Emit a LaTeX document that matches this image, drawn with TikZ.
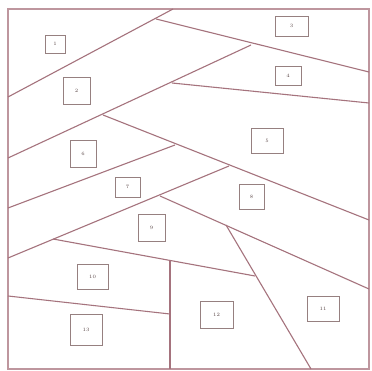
\documentclass[tikz,border=0pt]{standalone}
\begin{document}
\begin{tikzpicture}[x=1pt,y=-1pt,
  seg/.style={draw=lineclr,line width=1.1pt},
  frame/.style={draw=frameclr,line width=1.1pt},
  lbl/.style={draw=boxclr,line width=0.9pt,inner sep=0pt,font=\fontsize{5}{6}\selectfont,text=txtclr},
]
\definecolor{lineclr}{RGB}{165,115,125}
\definecolor{frameclr}{RGB}{190,150,158}
\definecolor{boxclr}{RGB}{150,128,128}
\definecolor{txtclr}{RGB}{90,70,70}
\useasboundingbox (0,0) rectangle (372,371);
\fill[white] (0,0) rectangle (372,371);
% frame
\coordinate (TL) at (8,9);
\coordinate (BR) at (369,369);
\draw[frame] (TL) rectangle (BR);
% line end points
\coordinate (a1) at (8,97);   \coordinate (a2) at (173,9);
\coordinate (b1) at (156,19); \coordinate (b2) at (369,72);
\coordinate (c1) at (8,158);  \coordinate (c2) at (251,45);
\coordinate (d1) at (172,83); \coordinate (d2) at (369,103);
\coordinate (e1) at (103,115);\coordinate (e2) at (369,220);
\coordinate (f1) at (8,208);  \coordinate (f2) at (175,145);
\coordinate (g1) at (8,258);  \coordinate (g2) at (229,166);
\coordinate (h1) at (160,196);\coordinate (h2) at (369,289);
\coordinate (i1) at (226,225);\coordinate (i2) at (311,369);
\coordinate (j1) at (53,239); \coordinate (j2) at (255,276);
\coordinate (k1) at (170,261);\coordinate (k2) at (170,369);
\coordinate (l1) at (8,296);  \coordinate (l2) at (170,314);
\draw[seg] (a1) -- (a2);
\draw[seg] (b1) -- (b2);
\draw[seg] (c1) -- (c2);
\draw[seg] (d1) -- (d2);
\draw[seg] (e1) -- (e2);
\draw[seg] (f1) -- (f2);
\draw[seg] (g1) -- (g2);
\draw[seg] (h1) -- (h2);
\draw[seg] (i1) -- (i2);
\draw[seg] (j1) -- (j2);
\draw[seg] (k1) -- (k2);
\draw[seg] (l1) -- (l2);
% labels
\node[lbl,minimum width=20pt,minimum height=18pt] (n1) at (55,44) {1};
\node[lbl,minimum width=27pt,minimum height=27pt] (n2) at (76.5,90.5) {2};
\node[lbl,minimum width=33pt,minimum height=20pt] (n3) at (291.5,26) {3};
\node[lbl,minimum width=26pt,minimum height=19pt] (n4) at (288,75.5) {4};
\node[lbl,minimum width=32pt,minimum height=25pt] (n5) at (267,140.5) {5};
\node[lbl,minimum width=26pt,minimum height=27pt] (n6) at (83,153.5) {6};
\node[lbl,minimum width=25pt,minimum height=20pt] (n7) at (127.5,187) {7};
\node[lbl,minimum width=25pt,minimum height=25pt] (n8) at (251.5,196.5) {8};
\node[lbl,minimum width=27pt,minimum height=27pt] (n9) at (151.5,227.5) {9};
\node[lbl,minimum width=31pt,minimum height=25pt] (n10) at (92.5,276.5) {10};
\node[lbl,minimum width=32pt,minimum height=25pt] (n11) at (323,308.5) {11};
\node[lbl,minimum width=33pt,minimum height=27pt] (n12) at (216.5,314.5) {12};
\node[lbl,minimum width=32pt,minimum height=31pt] (n13) at (86,329.5) {13};
\end{tikzpicture}
\end{document}
